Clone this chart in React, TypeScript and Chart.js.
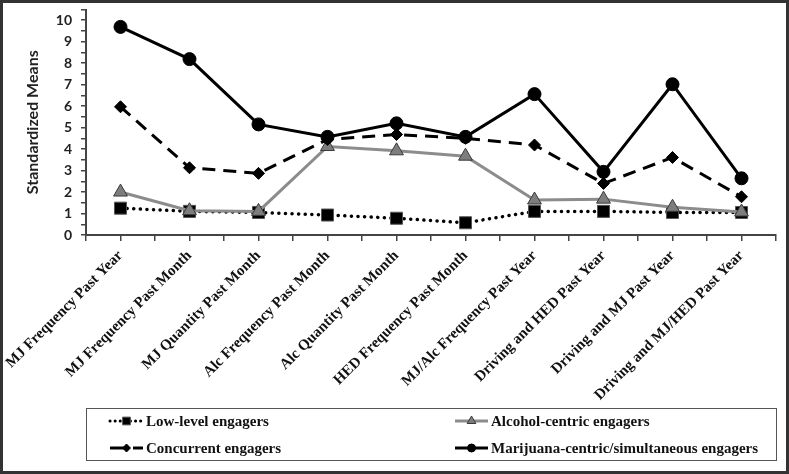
import React, { useEffect, useRef } from 'react';
import { Chart, registerables } from 'chart.js';

Chart.register(...registerables);

const categories = [
  'MJ Frequency Past Year',
  'MJ Frequency Past Month',
  'MJ Quantity Past Month',
  'Alc Frequency Past Month',
  'Alc Quantity Past Month',
  'HED Frequency Past Month',
  'MJ/Alc Frequency Past Year',
  'Driving and HED Past Year',
  'Driving and MJ Past Year',
  'Driving and MJ/HED Past Year',
];

const lowLevel = [1.25, 1.1, 1.05, 0.93, 0.78, 0.57, 1.1, 1.1, 1.05, 1.05];
const alcoholCentric = [2.0, 1.13, 1.1, 4.12, 3.92, 3.67, 1.63, 1.67, 1.29, 1.07];
const concurrent = [5.97, 3.13, 2.87, 4.45, 4.68, 4.5, 4.19, 2.4, 3.61, 1.78];
const marijuanaCentric = [9.69, 8.19, 5.15, 4.57, 5.2, 4.57, 6.56, 2.94, 7.02, 2.64];

const seriesNames = [
  'Low-level engagers',
  'Alcohol-centric engagers',
  'Concurrent engagers',
  'Marijuana-centric/simultaneous engagers',
];

const yTickLabels = ['0', '1', '2', '3', '4', '5', '6', '7', '8', '9', '10'];

const yTitle = 'Standardized Means';

const SERIF = '"Liberation Serif", "Times New Roman", "DejaVu Serif", serif';

type Marker = 'rect' | 'triangle' | 'rectRot' | 'circle';

function drawMarker(
  ctx: CanvasRenderingContext2D,
  style: Marker,
  x: number,
  y: number,
  r: number,
  fill: string,
  stroke: string,
  bw: number
) {
  ctx.save();
  ctx.setLineDash([]);
  ctx.beginPath();
  if (style === 'rect') {
    const s = Math.SQRT1_2 * r;
    ctx.rect(x - s, y - s, 2 * s, 2 * s);
  } else if (style === 'triangle') {
    for (let k = 0; k < 3; k++) {
      const a = (k * 2 * Math.PI) / 3;
      const px = x + Math.sin(a) * r;
      const py = y - Math.cos(a) * r;
      if (k === 0) ctx.moveTo(px, py);
      else ctx.lineTo(px, py);
    }
    ctx.closePath();
  } else if (style === 'rectRot') {
    ctx.moveTo(x, y - r);
    ctx.lineTo(x + r, y);
    ctx.lineTo(x, y + r);
    ctx.lineTo(x - r, y);
    ctx.closePath();
  } else {
    ctx.arc(x, y, r, 0, Math.PI * 2);
  }
  ctx.fillStyle = fill;
  ctx.fill();
  if (bw > 0) {
    ctx.lineWidth = bw;
    ctx.strokeStyle = stroke;
    ctx.stroke();
  }
  ctx.restore();
}

const pagePlugin = {
  id: 'pageFrameAndLegend',
  beforeDraw(chart: any) {
    const { ctx, width, height } = chart;
    ctx.save();
    ctx.fillStyle = '#ffffff';
    ctx.fillRect(0, 0, width, height);
    ctx.restore();
  },
  afterDraw(chart: any) {
    const { ctx, width, height, chartArea } = chart;
    ctx.save();
    // legend box
    const boxTop = height - 66;
    const boxH = 52;
    ctx.strokeStyle = '#555';
    ctx.lineWidth = 1;
    ctx.setLineDash([]);
    ctx.strokeRect(Math.round(chartArea.left) + 0.5, boxTop + 0.5, chartArea.right - chartArea.left, boxH);

    const colX = [chartArea.left + 24, chartArea.left + 369];
    const rowY = [boxTop + 13, boxTop + 40];
    const order = [0, 1, 2, 3];
    order.forEach((dsIndex, k) => {
      const ds = chart.data.datasets[dsIndex];
      const col = k % 2;
      const row = Math.floor(k / 2);
      const x0 = colX[col];
      const y0 = rowY[row];
      const w = 33;
      ctx.save();
      ctx.beginPath();
      ctx.strokeStyle = ds.borderColor;
      ctx.lineWidth = ds.legendLineWidth;
      ctx.lineCap = ds.borderCapStyle || 'butt';
      ctx.setLineDash(ds.legendDash || []);
      ctx.moveTo(x0, y0);
      ctx.lineTo(x0 + w, y0);
      ctx.stroke();
      ctx.restore();
      drawMarker(
        ctx,
        ds.pointStyle,
        x0 + w / 2,
        y0,
        ds.legendRadius,
        ds.pointBackgroundColor,
        ds.pointBorderColor,
        ds.pointBorderWidth
      );
      ctx.fillStyle = '#111';
      ctx.font = 'bold 15px ' + SERIF;
      ctx.textBaseline = 'middle';
      ctx.textAlign = 'left';
      ctx.fillText(seriesNames[dsIndex], x0 + w + 3, y0 + 1);
    });

    // outer frame
    ctx.strokeStyle = '#333';
    ctx.lineWidth = 3;
    ctx.strokeRect(1.5, 1.5, width - 3, height - 3);
    ctx.restore();
  },
};

const toPoints = (arr: number[]) => arr.map((v, i) => ({ x: i, y: v }));

export default function App() {
  const canvasRef = useRef<HTMLCanvasElement | null>(null);

  useEffect(() => {
    if (!canvasRef.current) return;
    const chart = new Chart(canvasRef.current, {
      type: 'line',
      data: {
        datasets: [
          {
            label: seriesNames[0],
            data: toPoints(lowLevel),
            borderColor: '#000',
            borderWidth: 3.5,
            borderDash: [0.1, 6.5],
            borderCapStyle: 'round',
            pointStyle: 'rect',
            pointRadius: 8.5,
            pointHoverRadius: 8.5,
            pointBackgroundColor: '#000',
            pointBorderColor: '#555',
            pointBorderWidth: 1,
            order: 4,
            legendDash: [0.1, 5],
            legendLineWidth: 3,
            legendRadius: 5.5,
          } as any,
          {
            label: seriesNames[1],
            data: toPoints(alcoholCentric),
            borderColor: '#8c8c8c',
            borderWidth: 3,
            pointStyle: 'triangle',
            pointRadius: 8,
            pointHoverRadius: 8,
            pointBackgroundColor: '#7d7d7d',
            pointBorderColor: '#3a3a3a',
            pointBorderWidth: 1,
            order: 3,
            legendLineWidth: 3,
            legendRadius: 5,
          } as any,
          {
            label: seriesNames[2],
            data: toPoints(concurrent),
            borderColor: '#000',
            borderWidth: 3,
            borderDash: [13, 8],
            pointStyle: 'rectRot',
            pointRadius: 6,
            pointHoverRadius: 6,
            pointBackgroundColor: '#000',
            pointBorderColor: '#000',
            pointBorderWidth: 1,
            order: 2,
            legendDash: [19, 4],
            legendLineWidth: 3,
            legendRadius: 4,
          } as any,
          {
            label: seriesNames[3],
            data: toPoints(marijuanaCentric),
            borderColor: '#000',
            borderWidth: 3,
            pointStyle: 'circle',
            pointRadius: 6.5,
            pointHoverRadius: 6.5,
            pointBackgroundColor: '#000',
            pointBorderColor: '#000',
            pointBorderWidth: 1,
            order: 1,
            legendLineWidth: 3,
            legendRadius: 4,
          } as any,
        ],
      },
      options: {
        animation: false,
        responsive: true,
        maintainAspectRatio: false,
        layout: { padding: { top: 9, right: 13, left: 0, bottom: 0 } },
        plugins: {
          legend: { display: false },
          tooltip: { enabled: false },
        },
        scales: {
          x: {
            type: 'linear',
            min: -0.5,
            max: 9.5,
            ticks: {
              stepSize: 0.5,
              autoSkip: false,
              minRotation: 45,
              maxRotation: 45,
              padding: 6,
              color: '#111',
              font: { family: SERIF, weight: 'bold', size: 15 },
              callback: (v: any) => (Number.isInteger(v) ? categories[v] : ''),
            },
            grid: { drawOnChartArea: false, drawTicks: true, tickLength: 6, color: '#444', lineWidth: 1.5 },
            border: { display: true, color: '#444', width: 2 },
            afterFit: (scale: any) => {
              scale.height = 239;
              scale.paddingLeft = 0;
              scale.paddingRight = 0;
            },
          },
          y: {
            type: 'linear',
            min: 0,
            max: 10.5,
            ticks: {
              stepSize: 0.5,
              autoSkip: false,
              padding: 9,
              color: '#222',
              font: { family: 'Lato', weight: 'bold', size: 14 },
              callback: (v: any) => (Number.isInteger(v) ? yTickLabels[v] : ''),
            },
            grid: { drawOnChartArea: false, drawTicks: true, tickLength: 5, color: '#444', lineWidth: 1.5 },
            border: { display: true, color: '#444', width: 2 },
            title: {
              display: true,
              text: yTitle,
              color: '#222',
              font: { family: 'Lato', weight: 'bold', size: 16 },
              padding: { top: 23, bottom: 4 },
            },
            afterFit: (scale: any) => {
              scale.width = 86;
              scale.paddingTop = 0;
              scale.paddingBottom = 0;
            },
          },
        },
      } as any,
      plugins: [pagePlugin],
    });
    return () => chart.destroy();
  }, []);

  return (
    <div style={{ position: 'absolute', left: 0, top: 0, width: 789, height: 474, background: '#fff' }}>
      <canvas ref={canvasRef} />
    </div>
  );
}
